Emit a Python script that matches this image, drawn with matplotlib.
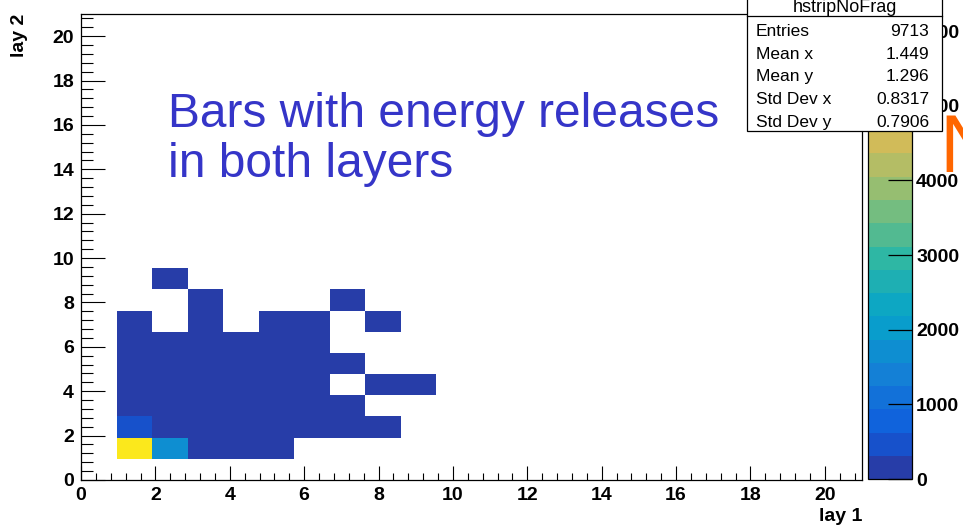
import numpy as np
import matplotlib
matplotlib.use("Agg")
import matplotlib.pyplot as plt
from matplotlib.colors import LinearSegmentedColormap, ListedColormap, BoundaryNorm
from matplotlib.patches import Rectangle
from matplotlib.lines import Line2D

plt.rcParams['font.family'] = ['Liberation Sans', 'DejaVu Sans']

# hstripNoFrag: 22 x 22 bins over [0, 21] in both layers
nbins = 22
lo, hi = 0, 21
# counts[row][col] -> lay 2 bins 1..9 (rows), lay 1 bins 1..9 (cols); 0 = empty
counts = [
    [5880, 1700, 131, 90, 45, 0, 0, 0, 0],
    [500, 160, 110, 70, 40, 25, 12, 6, 0],
    [120, 95, 70, 45, 30, 15, 8, 0, 0],
    [80, 60, 45, 30, 20, 10, 0, 4, 2],
    [55, 40, 30, 22, 14, 8, 3, 0, 0],
    [30, 25, 18, 12, 8, 5, 0, 0, 0],
    [12, 0, 10, 0, 5, 3, 0, 2, 0],
    [0, 0, 4, 0, 0, 0, 2, 0, 0],
    [0, 2, 0, 0, 0, 0, 0, 0, 0],
]
zmax = 6230
ncont = 20
cbar_ticks = [0, 1000, 2000, 3000, 4000, 5000, 6000]

stat_names = ["Entries", "Mean x", "Mean y", "Std Dev x", "Std Dev y"]
stat_vals = ["9713", "1.449", "1.296", "0.8317", "0.7906"]

# ROOT kBird palette
stops = [0.0, 0.125, 0.25, 0.375, 0.5, 0.625, 0.75, 0.875, 1.0]
red = [0.2082, 0.0592, 0.0780, 0.0232, 0.1802, 0.5301, 0.8186, 0.9956, 0.9764]
green = [0.1664, 0.3599, 0.5041, 0.6419, 0.7178, 0.7492, 0.7328, 0.7862, 0.9832]
blue = [0.5293, 0.8684, 0.8385, 0.7914, 0.6425, 0.4662, 0.3499, 0.1968, 0.0539]
bird = LinearSegmentedColormap.from_list(
    "kbird", list(zip(stops, zip(red, green, blue))), N=255)
band_cols = [bird(int((i + 0.99) * 255 / ncont)) for i in range(ncont)]
cmap = ListedColormap(band_cols)
norm = BoundaryNorm(np.linspace(0, zmax, ncont + 1), ncont)

H = np.zeros((nbins, nbins))
c = np.array(counts, dtype=float)
H[1:1 + c.shape[0], 1:1 + c.shape[1]] = c
H = np.ma.masked_equal(H, 0)
edges = np.linspace(lo, hi, nbins + 1)

W, Hpx = 963, 529
def fx(px):
    return px / W
def fy(py):
    return 1 - py / Hpx

fig = plt.figure(figsize=(W / 100, Hpx / 100), dpi=100)
ax = fig.add_axes([fx(81), fy(480), (862 - 81) / W, (480 - 14) / Hpx])
mesh = ax.pcolormesh(edges, edges, H, cmap=cmap, norm=norm)
ax.set_xlim(lo, hi)
ax.set_ylim(lo, hi)

major = np.arange(0, 21, 2)
ax.set_xticks(major)
ax.set_xticklabels([str(v) for v in major], fontweight='bold')
ax.set_yticks(major)
ax.set_yticklabels([str(v) for v in major], fontweight='bold')
ax.set_xticks(np.arange(0, 21.01, 0.4), minor=True)
ax.set_yticks(np.arange(0, 21.01, 0.4), minor=True)
ax.tick_params(axis='x', which='major', direction='in', length=10, width=0.8,
               labelsize=14, pad=5)
ax.tick_params(axis='x', which='minor', direction='in', length=5, width=0.8)
ax.tick_params(axis='y', which='major', direction='in', length=17, width=0.8,
               labelsize=14, pad=5)
ax.tick_params(axis='y', which='minor', direction='in', length=8.5, width=0.8)
for s in ax.spines.values():
    s.set_linewidth(0.9)

ax.set_xlabel("lay 1", fontsize=14, fontweight='bold', ha='right')
ax.xaxis.set_label_coords(1.0, -0.06)
ax.set_ylabel("lay 2", fontsize=14, fontweight='bold', loc='top')
ax.yaxis.set_label_coords(-0.068, 1.0)

# colour scale
cax = fig.add_axes([fx(868), fy(479), (912 - 868) / W, (479 - 14) / Hpx])
cb = fig.colorbar(mesh, cax=cax, ticks=cbar_ticks)
cb.outline.set_linewidth(0.9)
cax.tick_params(which='major', direction='in', length=17, width=0.9,
                labelsize=14, pad=3)
cax.minorticks_off()
for t in cax.get_yticklabels():
    t.set_fontweight('bold')

# annotation
fig.text(fx(168), fy(127), "Bars with energy releases", fontsize=34.5,
         color='#3535c8', va='baseline', ha='left')
fig.text(fx(168), fy(177), "in both layers", fontsize=34.5,
         color='#3535c8', va='baseline', ha='left')

# stats box
fig.add_artist(Rectangle((fx(747), fy(131)), (942 - 747) / W, 140 / Hpx,
                         transform=fig.transFigure, facecolor='white',
                         edgecolor='black', linewidth=0.9, zorder=9))
fig.add_artist(Line2D([fx(747), fx(942)], [fy(16), fy(16)],
                      transform=fig.transFigure, color='black',
                      linewidth=0.9, zorder=10))
fig.text(fx(845), fy(12), "hstripNoFrag", fontsize=13, ha='center',
         va='baseline', zorder=11)
for i, (n, v) in enumerate(zip(stat_names, stat_vals)):
    yb = 36 + i * 22.7
    fig.text(fx(756), fy(yb), n, fontsize=12.5, ha='left', va='baseline', zorder=11)
    fig.text(fx(929), fy(yb), v, fontsize=12.5, ha='right', va='baseline', zorder=11)

fig.text(fx(939), fy(172), "N", fontsize=58, color='#ff6600', ha='left',
         va='baseline', zorder=11)

fig.savefig("out.png", dpi=100)
